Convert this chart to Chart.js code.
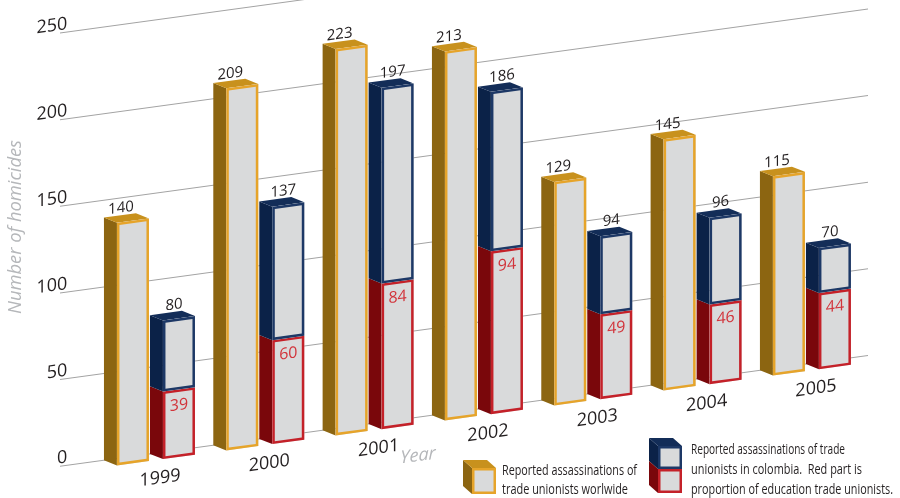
<!DOCTYPE html>
<html>
<head>
<meta charset="utf-8">
<script src="https://cdn.jsdelivr.net/npm/chart.js@4"></script>
<style>
  html, body { margin: 0; padding: 0; background: #fff; }
  #wrap { width: 900px; height: 498px; }
</style>
</head>
<body>
<div id="wrap"><canvas id="chart"></canvas></div>
<script>
// Data
const years = ["1999", "2000", "2001", "2002", "2003", "2004", "2005"];
const worldwide = [140, 209, 223, 213, 129, 145, 115];
const colombia = [80, 137, 197, 186, 94, 96, 70];
const education = [39, 60, 84, 94, 49, 46, 44];
const yTicks = [0, 50, 100, 150, 200, 250];

// Look
const SKEW = 0.137, X0 = 60, GRID_END = 868;
const DX = 13, DY = 7;
const FACE = "#d9dadb";
const INK = "#231f20";
const gold = { side: "#8c6511", top: "#c8911d", edge: "#e6a42a" };
const navy = { side: "#0b2248", top: "#132d58", edge: "#1d3866" };
const red = { side: "#7a070b", top: "#9a1016", edge: "#c42129" };
const FONT = "'Open Sans', sans-serif";

function box(ctx, l, r, t, b, col, withTop) {
  ctx.fillStyle = col.side;
  ctx.beginPath();
  ctx.moveTo(l, t); ctx.lineTo(l + DX, t + DY); ctx.lineTo(l + DX, b + DY); ctx.lineTo(l, b);
  ctx.closePath(); ctx.fill();
  if (withTop) {
    ctx.fillStyle = col.top;
    ctx.beginPath();
    ctx.moveTo(l, t); ctx.lineTo(r, t); ctx.lineTo(r + DX, t + DY); ctx.lineTo(l + DX, t + DY);
    ctx.closePath(); ctx.fill();
  }
  ctx.fillStyle = FACE;
  ctx.fillRect(l + DX, t + DY, r - l, b - t);
  ctx.strokeStyle = col.edge;
  ctx.lineWidth = 2.5;
  ctx.strokeRect(l + DX + 1.25, t + DY + 1.25, r - l - 2.5, b - t - 2.5);
}

// small legend cube, front face given, depth up-left
function cube(ctx, fx, fy, w, h, col, withTop) {
  const dx = 9, dy = 8;
  ctx.fillStyle = col.side;
  ctx.beginPath();
  ctx.moveTo(fx - dx, fy - dy); ctx.lineTo(fx, fy); ctx.lineTo(fx, fy + h); ctx.lineTo(fx - dx, fy + h - dy);
  ctx.closePath(); ctx.fill();
  if (withTop) {
    ctx.fillStyle = col.top;
    ctx.beginPath();
    ctx.moveTo(fx - dx, fy - dy); ctx.lineTo(fx + w - dx, fy - dy); ctx.lineTo(fx + w, fy); ctx.lineTo(fx, fy);
    ctx.closePath(); ctx.fill();
  }
  ctx.fillStyle = FACE;
  ctx.fillRect(fx, fy, w, h);
  ctx.strokeStyle = col.edge;
  ctx.lineWidth = 2.5;
  ctx.strokeRect(fx + 1.25, fy + 1.25, w - 2.5, h - 2.5);
}

function geom(chart, d, i) {
  const el = chart.getDatasetMeta(d).data[i];
  const p = el.getProps(["x", "y", "base", "width"], true);
  return { l: p.x - p.width / 2, r: p.x + p.width / 2, t: Math.min(p.y, p.base), b: Math.max(p.y, p.base), c: p.x };
}

const perspective = {
  id: "perspective",
  afterLayout(chart) {
    // the slant pushes year labels below the scale box; let them show
    chart.scales.x.bottom = chart.height + 60;
  },
  beforeDraw(chart) {
    const ctx = chart.ctx;
    ctx.save();
    ctx.setTransform(1, -SKEW, 0, 1, 0, SKEW * X0);
    // grid lines on the back wall
    const ys = chart.scales.y;
    ctx.strokeStyle = "#a3a3a3";
    ctx.lineWidth = 1;
    yTicks.forEach(v => {
      const y = ys.getPixelForValue(v);
      ctx.beginPath(); ctx.moveTo(X0, y); ctx.lineTo(GRID_END, y); ctx.stroke();
    });
  },
  afterDatasetsDraw(chart) {
    const ctx = chart.ctx;
    years.forEach((yr, i) => {
      const g = geom(chart, 0, i), e = geom(chart, 1, i), n = geom(chart, 2, i);
      box(ctx, g.l, g.r, g.t, g.b, gold, true);
      box(ctx, e.l, e.r, e.t, e.b, red, false);
      box(ctx, n.l, n.r, n.t, n.b, navy, true);

      ctx.textAlign = "center";
      ctx.textBaseline = "middle";
      ctx.fillStyle = INK;
      ctx.font = "15px " + FONT;
      ctx.fillText(worldwide[i], g.c + 1, g.t - 7);
      ctx.fillText(colombia[i], n.c + 8, n.t - 7);
      ctx.fillStyle = "#d2343b";
      ctx.font = "16px " + FONT;
      ctx.fillText(education[i], e.c + DX, e.t + DY + 16);
    });
  },
  afterDraw(chart) {
    const ctx = chart.ctx;
    // x axis title, still on the slanted floor
    ctx.fillStyle = "#b5b7ba";
    ctx.font = "italic 18px " + FONT;
    ctx.textAlign = "center";
    ctx.textBaseline = "middle";
    ctx.fillText("Year", 418, 505);
    ctx.restore();

    // y axis title
    ctx.save();
    ctx.translate(16, 227);
    ctx.rotate(-Math.PI / 2);
    ctx.fillStyle = "#b5b7ba";
    ctx.font = "italic 19px " + FONT;
    ctx.textAlign = "center";
    ctx.textBaseline = "middle";
    ctx.fillText("Number of homicides", 0, 0, 174);
    ctx.restore();

    // legend
    cube(ctx, 472, 468, 24, 26, gold, true);
    cube(ctx, 658, 446, 24, 23, navy, true);
    cube(ctx, 658, 469, 24, 24, red, false);
    ctx.fillStyle = INK;
    ctx.font = "15px " + FONT;
    ctx.textAlign = "left";
    ctx.textBaseline = "middle";
    ctx.fillText("Reported assassinations of", 502, 471, 135);
    ctx.fillText("trade unionists worlwide", 502, 490, 126);
    ctx.fillText("Reported assassinations of trade", 691, 450, 154);
    ctx.fillText("unionists in colombia.  Red part is", 691, 470, 171);
    ctx.fillText("proportion of education trade unionists.", 691, 490, 202);
  }
};

const clear = "rgba(0,0,0,0)";
new Chart(document.getElementById("chart"), {
  type: "bar",
  data: {
    labels: years,
    datasets: [
      { label: "worldwide", data: worldwide, stack: "w", backgroundColor: clear, borderWidth: 0 },
      { label: "education", data: education, stack: "c", backgroundColor: clear, borderWidth: 0 },
      { label: "colombia", data: colombia.map((v, i) => v - education[i]), stack: "c", backgroundColor: clear, borderWidth: 0 }
    ]
  },
  options: {
    responsive: true,
    maintainAspectRatio: false,
    animation: false,
    events: [],
    categoryPercentage: 0.8415,
    barPercentage: 0.6957,
    layout: { padding: { left: 0, top: 33, right: 46.4, bottom: 0 } },
    plugins: { legend: { display: false }, tooltip: { enabled: false } },
    scales: {
      x: {
        stacked: true,
        offset: true,
        grid: { display: false, drawTicks: false },
        border: { display: false },
        ticks: { color: INK, font: { family: "Open Sans", size: 18 }, padding: 15, labelOffset: 17, autoSkip: false, maxRotation: 0 },
        afterFit(s) { s.height = 28; }
      },
      y: {
        stacked: true,
        min: 0, max: 250,
        grid: { display: false, drawTicks: false },
        border: { display: false },
        ticks: { stepSize: 50, color: INK, font: { family: "Open Sans", size: 18 }, padding: 21, labelOffset: -8 },
        afterFit(s) { s.width = 88.3; }
      }
    }
  },
  plugins: [perspective]
});
</script>
</body>
</html>
